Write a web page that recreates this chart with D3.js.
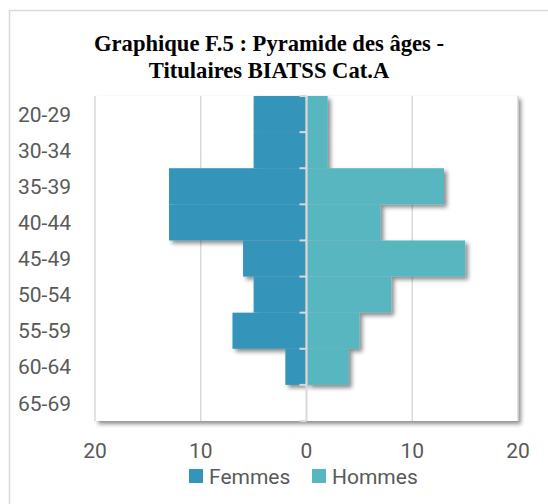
<!DOCTYPE html>
<html>
<head>
<meta charset="utf-8">
<script src="https://cdn.jsdelivr.net/npm/d3@7"></script>
<style>
  body { margin: 0; background: #fff; }
  svg { display: block; }
  .tick_label { font-family: Roboto, "Open Sans", sans-serif; font-size: 21px; fill: #595959; }
  .title { font-family: "Liberation Serif", "Times New Roman", serif; font-weight: bold; font-size: 22.6px; fill: #000; }
</style>
</head>
<body>
<svg id="chart" width="548" height="504"></svg>
<script>
// values
let categories = ["20-29", "30-34", "35-39", "40-44", "45-49", "50-54", "55-59", "60-64", "65-69"],
    femmes = [5, 5, 13, 13, 6, 5, 7, 2, 0],
    hommes = [2, 2, 13, 7, 15, 8, 5, 4, 0],
    x_ticks = [-20, -10, 0, 10, 20],
    series_names = ["Femmes", "Hommes"],
    series_colors = ["#3494ba", "#58b6c0"];

let svg = d3.select("#chart");

let defs = svg.append("defs");
defs.append("filter")
    .attr("id", "shadow")
    .attr("x", "-10%").attr("y", "-10%")
    .attr("width", "130%").attr("height", "130%")
    .append("feDropShadow")
    .attr("dx", 3).attr("dy", 3)
    .attr("stdDeviation", 2)
    .attr("flood-color", "#000")
    .attr("flood-opacity", 0.45);

let xScale = d3.scaleLinear()
    .domain([-20, 20])
    .range([95, 518]);

let yScale = d3.scaleBand()
    .domain(categories)
    .range([96, 421])
    .padding(0);

// chart frame
svg.append("rect")
    .attr("x", 9.5).attr("y", 10.5)
    .attr("width", 560).attr("height", 520)
    .attr("fill", "#fff")
    .attr("stroke", "#d9d9d9")
    .attr("stroke-width", 1.5);

// title
let title = svg.append("text")
    .attr("class", "title")
    .attr("text-anchor", "middle");
title.append("tspan").attr("x", 269).attr("y", 51).text("Graphique F.5 : Pyramide des âges -");
title.append("tspan").attr("x", 269).attr("y", 78).text("Titulaires BIATSS Cat.A");

// plot area with its shadow
svg.append("rect")
    .attr("x", xScale(-20)).attr("y", yScale.range()[0])
    .attr("width", xScale(20) - xScale(-20))
    .attr("height", yScale.range()[1] - yScale.range()[0])
    .attr("fill", "#fff")
    .attr("filter", "url(#shadow)");

// gridlines
svg.append("g")
    .selectAll("line")
    .data(x_ticks.filter(d => d !== 0))
    .enter()
    .append("line")
    .attr("x1", d => xScale(d)).attr("x2", d => xScale(d))
    .attr("y1", yScale.range()[0]).attr("y2", yScale.range()[1])
    .attr("stroke", "#d9d9d9")
    .attr("stroke-width", 1.5);

// bars
svg.append("g")
    .attr("filter", "url(#shadow)")
    .selectAll("rect")
    .data(categories)
    .enter()
    .append("rect")
    .attr("x", (d, i) => xScale(-femmes[i]))
    .attr("y", d => yScale(d))
    .attr("width", (d, i) => Math.max(0, xScale(0) - 1 - xScale(-femmes[i])))
    .attr("height", yScale.bandwidth())
    .attr("fill", series_colors[0]);

svg.append("g")
    .attr("filter", "url(#shadow)")
    .selectAll("rect")
    .data(categories)
    .enter()
    .append("rect")
    .attr("x", xScale(0) + 1)
    .attr("y", d => yScale(d))
    .attr("width", (d, i) => Math.max(0, xScale(hommes[i]) - xScale(0) - 1))
    .attr("height", yScale.bandwidth())
    .attr("fill", series_colors[1]);

// vertical axis at 0 with ticks
svg.append("line")
    .attr("x1", xScale(0)).attr("x2", xScale(0))
    .attr("y1", yScale.range()[0]).attr("y2", yScale.range()[1])
    .attr("stroke", "#d9d9d9")
    .attr("stroke-width", 2);

let boundaries = categories.map(d => yScale(d)).concat([yScale.range()[1]]);
svg.append("g")
    .selectAll("line")
    .data(boundaries)
    .enter()
    .append("line")
    .attr("x1", xScale(0) - 7).attr("x2", xScale(0))
    .attr("y1", d => d).attr("y2", d => d)
    .attr("stroke", "#d9d9d9")
    .attr("stroke-width", 2);

// category labels
svg.append("g")
    .selectAll("text")
    .data(categories)
    .enter()
    .append("text")
    .attr("class", "tick_label")
    .attr("x", 71)
    .attr("y", d => yScale(d) + yScale.bandwidth() / 2)
    .attr("dy", "0.36em")
    .attr("text-anchor", "end")
    .text(d => d);

// x tick labels
svg.append("g")
    .selectAll("text")
    .data(x_ticks)
    .enter()
    .append("text")
    .attr("class", "tick_label")
    .attr("x", d => xScale(d))
    .attr("y", 458)
    .attr("text-anchor", "middle")
    .text(d => Math.abs(d));

// legend
let legend_x = [189, 312];
let legend = svg.append("g")
    .selectAll("g")
    .data(series_names)
    .enter()
    .append("g")
    .attr("transform", (d, i) => "translate(" + legend_x[i] + ",469)");

legend.append("rect")
    .attr("width", 14).attr("height", 14)
    .attr("fill", (d, i) => series_colors[i]);

legend.append("text")
    .attr("class", "tick_label")
    .attr("x", 20).attr("y", 15)
    .text(d => d);
</script>
</body>
</html>
